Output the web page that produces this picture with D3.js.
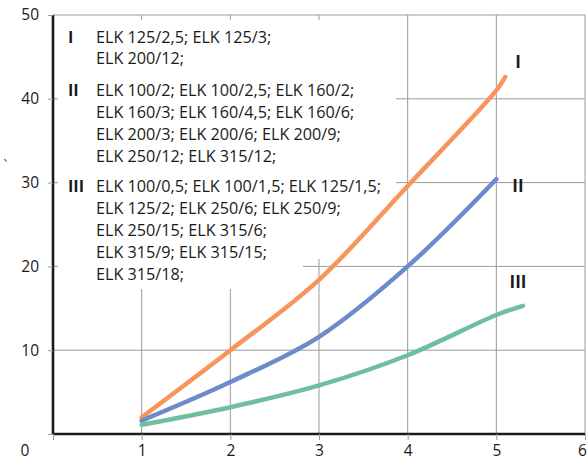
<!DOCTYPE html>
<html>
<head>
<meta charset="utf-8">
<script src="https://cdn.jsdelivr.net/npm/d3@7"></script>
<style>
  html, body { margin: 0; padding: 0; background: #fff; }
  svg { display: block; font-family: "Open Sans", "Noto Sans", sans-serif; }
</style>
</head>
<body>
<div id="chart"></div>
<script>
// curve data
const xI = [1, 2, 3, 4, 5, 5.1]
const yI = [2, 10, 18.4, 29.6, 41, 42.6]
const xII = [1, 2, 3, 4, 5]
const yII = [1.6, 6.2, 11.6, 20, 30.4]
const xIII = [1, 2, 3, 4, 5, 5.3]
const yIII = [1.1, 3.2, 5.8, 9.4, 14.2, 15.3]

const seriesNames = ['I', 'II', 'III']
const seriesColors = ['#f7955c', '#6c8bcb', '#6fbf9c']

const xTicks = [1, 2, 3, 4, 5, 6]
const yTicks = [10, 20, 30, 40, 50]

// legend groups: roman numeral + text lines
const legendGroups = [
  { name: 'I', lines: ['ELK 125/2,5; ELK 125/3;', 'ELK 200/12;'] },
  { name: 'II', lines: ['ELK 100/2; ELK 100/2,5; ELK 160/2;', 'ELK 160/3; ELK 160/4,5; ELK 160/6;',
    'ELK 200/3; ELK 200/6; ELK 200/9;', 'ELK 250/12; ELK 315/12;'] },
  { name: 'III', lines: ['ELK 100/0,5; ELK 100/1,5; ELK 125/1,5;', 'ELK 125/2; ELK 250/6; ELK 250/9;',
    'ELK 250/15; ELK 315/6;', 'ELK 315/9; ELK 315/15;', 'ELK 315/18;'] }
]

const W = 588, H = 462
const svg = d3.select('#chart').append('svg').attr('width', W).attr('height', H)

const x = d3.scaleLinear().domain([0, 6]).range([53, 585])
const y = d3.scaleLinear().domain([0, 50]).range([434, 15])

// grid
const grid = svg.append('g').attr('stroke', '#9c9c9c').attr('stroke-width', 1)
grid.selectAll('line.v').data(xTicks).enter().append('line')
  .attr('x1', d => x(d)).attr('x2', d => x(d)).attr('y1', y(50)).attr('y2', y(0))
grid.selectAll('line.h').data(yTicks).enter().append('line')
  .attr('x1', x(0)).attr('x2', x(6)).attr('y1', d => y(d)).attr('y2', d => y(d))

// white block behind the legend
svg.append('rect').attr('x', 58).attr('y', 20).attr('width', 338).attr('height', 239).attr('fill', '#fff')
svg.append('rect').attr('x', 58).attr('y', 258).attr('width', 245).attr('height', 31).attr('fill', '#fff')

// axes
const xAxis = svg.append('g').attr('transform', `translate(0,${y(0)})`)
  .call(d3.axisBottom(x).tickValues([0, ...xTicks]).tickSize(6).tickFormat(d => d === 0 ? '' : d))
const yAxis = svg.append('g').attr('transform', `translate(${x(0)},0)`)
  .call(d3.axisLeft(y).tickValues([0, ...yTicks]).tickSize(5).tickFormat(d => d === 0 ? '' : d))
for (const a of [xAxis, yAxis]) {
  a.select('.domain').attr('stroke', '#1a1a1a').attr('stroke-width', 2.6)
  a.selectAll('.tick line').attr('stroke', '#9c9c9c')
  a.selectAll('.tick text').attr('fill', '#1a1a1a').attr('font-size', 15.5)
    .attr('font-family', '"Open Sans", sans-serif')
}
xAxis.select('.domain').attr('d', `M${x(0)},0H${x(6)}`)
yAxis.select('.domain').attr('d', `M0,${y(50)}V${y(0)}`)
xAxis.selectAll('.tick text').attr('y', 11)
// the last label sits on the page edge; nudge it in so it stays whole
xAxis.selectAll('.tick text').filter(d => d === 6).attr('dx', -3)
yAxis.selectAll('.tick text').attr('x', -14)

svg.append('text').attr('x', 25).attr('y', 456).attr('text-anchor', 'middle')
  .attr('font-size', 15.5).attr('fill', '#1a1a1a').text('0')
svg.append('text').attr('transform', 'translate(12,163) rotate(-70)').attr('text-anchor', 'middle')
  .attr('font-size', 12).attr('fill', '#1a1a1a').text('′')

// curves
const line = d3.line().curve(d3.curveCatmullRom.alpha(0.5)).x(d => x(d[0])).y(d => y(d[1]))
const series = [d3.zip(xI, yI), d3.zip(xII, yII), d3.zip(xIII, yIII)]
svg.append('g').selectAll('path').data(series).enter().append('path')
  .attr('d', d => line(d))
  .attr('fill', 'none')
  .attr('stroke', (d, i) => seriesColors[i])
  .attr('stroke-width', 4.5)
  .attr('stroke-linecap', 'round')

// curve labels
svg.append('g').selectAll('text').data(series).enter().append('text')
  .attr('x', 518)
  .attr('y', (d, i) => [62, 186, 282][i] + 6)
  .attr('text-anchor', 'middle')
  .attr('font-size', 17).attr('font-weight', 'bold').attr('fill', '#1a1a1a')
  .text((d, i) => seriesNames[i])

// legend text
const legendY = [[37, 58], [90, 112, 134, 156], [186, 208, 230, 252, 274]]
const lg = svg.append('g').attr('fill', '#1a1a1a').attr('font-size', 16.2)
legendGroups.forEach((g, gi) => {
  lg.append('text').attr('x', 68).attr('y', legendY[gi][0] + 6)
    .attr('font-weight', 'bold').text(g.name)
  g.lines.forEach((t, li) => {
    lg.append('text').attr('x', 96).attr('y', legendY[gi][li] + 6).text(t)
  })
})
</script>
</body>
</html>
